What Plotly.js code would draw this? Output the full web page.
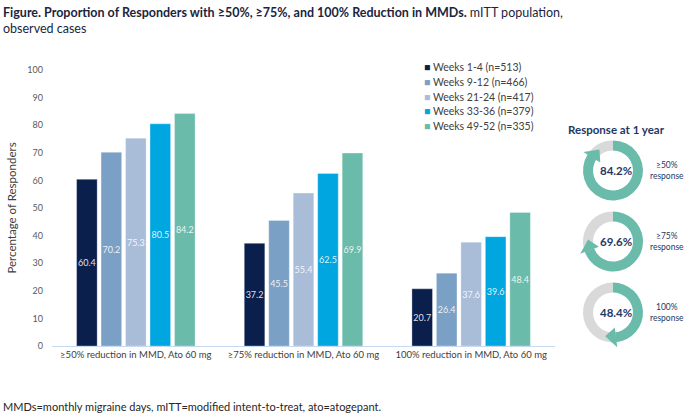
<!DOCTYPE html>
<html>
<head>
<meta charset="utf-8">
<script src="https://cdn.plot.ly/plotly-3.0.1.min.js"></script>
<style>
  html, body { margin: 0; padding: 0; background: #fff; }
  #plot { width: 685px; height: 414px; }
</style>
</head>
<body>
<div id="plot"></div>
<script>
// data
const categories = [
    '≥50% reduction in MMD, Ato 60 mg',
    '≥75% reduction in MMD, Ato 60 mg',
    '100% reduction in MMD, Ato 60 mg'
];
const seriesNames = [
    'Weeks 1-4 (n=513)',
    'Weeks 9-12 (n=466)',
    'Weeks 21-24 (n=417)',
    'Weeks 33-36 (n=379)',
    'Weeks 49-52 (n=335)'
];
const weeks1_4 = [60.4, 37.2, 20.7];
const weeks9_12 = [70.2, 45.5, 26.4];
const weeks21_24 = [75.3, 55.4, 37.6];
const weeks33_36 = [80.5, 62.5, 39.6];
const weeks49_52 = [84.2, 69.9, 48.4];
const yTicks = [0, 10, 20, 30, 40, 50, 60, 70, 80, 90, 100];

const yearLabels = ['≥50%<br>response', '≥75%<br>response', '100%<br>response'];
const yearValues = [84.2, 69.6, 48.4];

const colors = ['#0b1f4d', '#7aa0c6', '#a9bdd9', '#00a6e0', '#6bbbaa'];
const navy = '#1f3864';
const teal = '#6bbbaa';

// page geometry (pixels) used to place the side panel
const L = 52, R = 10, T = 70, B = 68;
const W = 685 - L - R, H = 414 - T - B;
const px = x => (x - L) / W;
const py = y => (T + H - y) / H;

const allSeries = [weeks1_4, weeks9_12, weeks21_24, weeks33_36, weeks49_52];

const data = allSeries.map((vals, i) => ({
    type: 'bar',
    name: seriesNames[i],
    x: categories,
    y: vals,
    text: vals.map(v => v.toFixed(1)),
    textposition: 'inside',
    insidetextanchor: 'middle',
    textangle: 0,
    constraintext: 'none',
    textfont: { family: 'Lato, sans-serif', size: 9, color: 'rgba(255,255,255,0.88)' },
    marker: { color: colors[i], line: { color: 'rgba(255,255,255,0.5)', width: 0.6 } },
    hoverinfo: 'x+y',
    showlegend: false
}));

const annotations = [];
const shapes = [];

// legend built as annotations for tight spacing
seriesNames.forEach((name, i) => {
    annotations.push({
        xref: 'paper', yref: 'paper',
        x: px(422), y: py(67 + i * 14.8),
        xanchor: 'left', yanchor: 'middle',
        text: '<span style="color:' + colors[i] + '">■</span> ' + name,
        showarrow: false,
        font: { family: 'Lato, sans-serif', size: 10.5, color: '#404040' }
    });
});

// response at 1 year donuts
const cx = 613, cy0 = 170.5, step = 71, rOut = 30, rIn = 20;
annotations.push({
    xref: 'paper', yref: 'paper',
    x: px(616), y: py(129),
    xanchor: 'center', yanchor: 'middle',
    text: '<b>Response at 1 year</b>',
    showarrow: false,
    font: { family: 'Lato, sans-serif', size: 11.5, color: navy }
});

yearValues.forEach((v, i) => {
    const cy = cy0 + i * step;
    data.push({
        type: 'pie',
        values: [v, 100 - v],
        sort: false,
        direction: 'clockwise',
        rotation: 0,
        hole: rIn / rOut,
        textinfo: 'none',
        hoverinfo: 'none',
        showlegend: false,
        marker: { colors: [teal, '#d9d9d9'] },
        domain: { x: [px(cx - rOut), px(cx + rOut)], y: [py(cy + rOut), py(cy - rOut)] }
    });
    annotations.push({
        xref: 'paper', yref: 'paper',
        x: px(cx + 3), y: py(cy),
        xanchor: 'center', yanchor: 'middle',
        text: '<b>' + v.toFixed(1) + '%</b>',
        showarrow: false,
        font: { family: 'Lato, sans-serif', size: 11.5, color: navy }
    });
    annotations.push({
        xref: 'paper', yref: 'paper',
        x: px(667), y: py(cy),
        xanchor: 'center', yanchor: 'middle',
        text: yearLabels[i],
        showarrow: false,
        font: { family: 'Lato, sans-serif', size: 8.5, color: navy }
    });
    // arrowhead at the end of the teal arc
    const th = v / 100 * 2 * Math.PI;
    const pt = (a, r) => [px(cx + r * Math.sin(a)), py(cy - r * Math.cos(a))];
    const rMid = (rOut + rIn) / 2;
    const b1 = pt(th - 0.02, rIn - 5), b2 = pt(th - 0.02, rOut + 5), tip = pt(th + 0.42, rMid);
    shapes.push({
        type: 'path', xref: 'paper', yref: 'paper',
        path: 'M ' + b1.join(',') + ' L ' + b2.join(',') + ' L ' + tip.join(',') + ' Z',
        fillcolor: teal, line: { width: 0 }
    });
});

// title and footnote
annotations.push({
    xref: 'paper', yref: 'paper',
    x: px(1), y: py(3),
    xanchor: 'left', yanchor: 'top', align: 'left',
    text: '<b>Figure. Proportion of Responders with ≥50%, ≥75%, and 100% Reduction in MMDs.</b> mITT population,<br>observed cases',
    showarrow: false,
    font: { family: 'Lato, sans-serif', size: 12.5, color: '#1a2540' }
});
annotations.push({
    xref: 'paper', yref: 'paper',
    x: px(1), y: py(406),
    xanchor: 'left', yanchor: 'middle',
    text: 'MMDs=monthly migraine days, mITT=modified intent-to-treat, ato=atogepant.',
    showarrow: false,
    font: { family: 'Lato, sans-serif', size: 11, color: '#262626' }
});

const layout = {
    width: 685,
    height: 414,
    margin: { l: L, r: R, t: T, b: B },
    paper_bgcolor: '#ffffff',
    plot_bgcolor: '#ffffff',
    font: { family: 'Lato, sans-serif', color: '#595959' },
    barmode: 'group',
    bargap: 0.27,
    bargroupgap: 0.16,
    showlegend: false,
    xaxis: {
        domain: [0, px(555)],
        showline: true,
        linecolor: '#c6d9f0',
        linewidth: 1,
        ticks: '',
        showgrid: false,
        zeroline: false,
        tickfont: { size: 9.5, color: '#404040' },
        automargin: false
    },
    yaxis: {
        range: [0, 100],
        tickvals: yTicks,
        showgrid: false,
        zeroline: false,
        showline: false,
        ticks: '',
        ticklabelstandoff: 8,
        tickfont: { size: 9, color: '#595959' },
        title: { text: 'Percentage of Responders', font: { size: 11.5, color: '#404040' }, standoff: 8 },
        automargin: false
    },
    annotations: annotations,
    shapes: shapes
};

Plotly.newPlot('plot', data, layout, { staticPlot: true });
</script>
</body>
</html>
